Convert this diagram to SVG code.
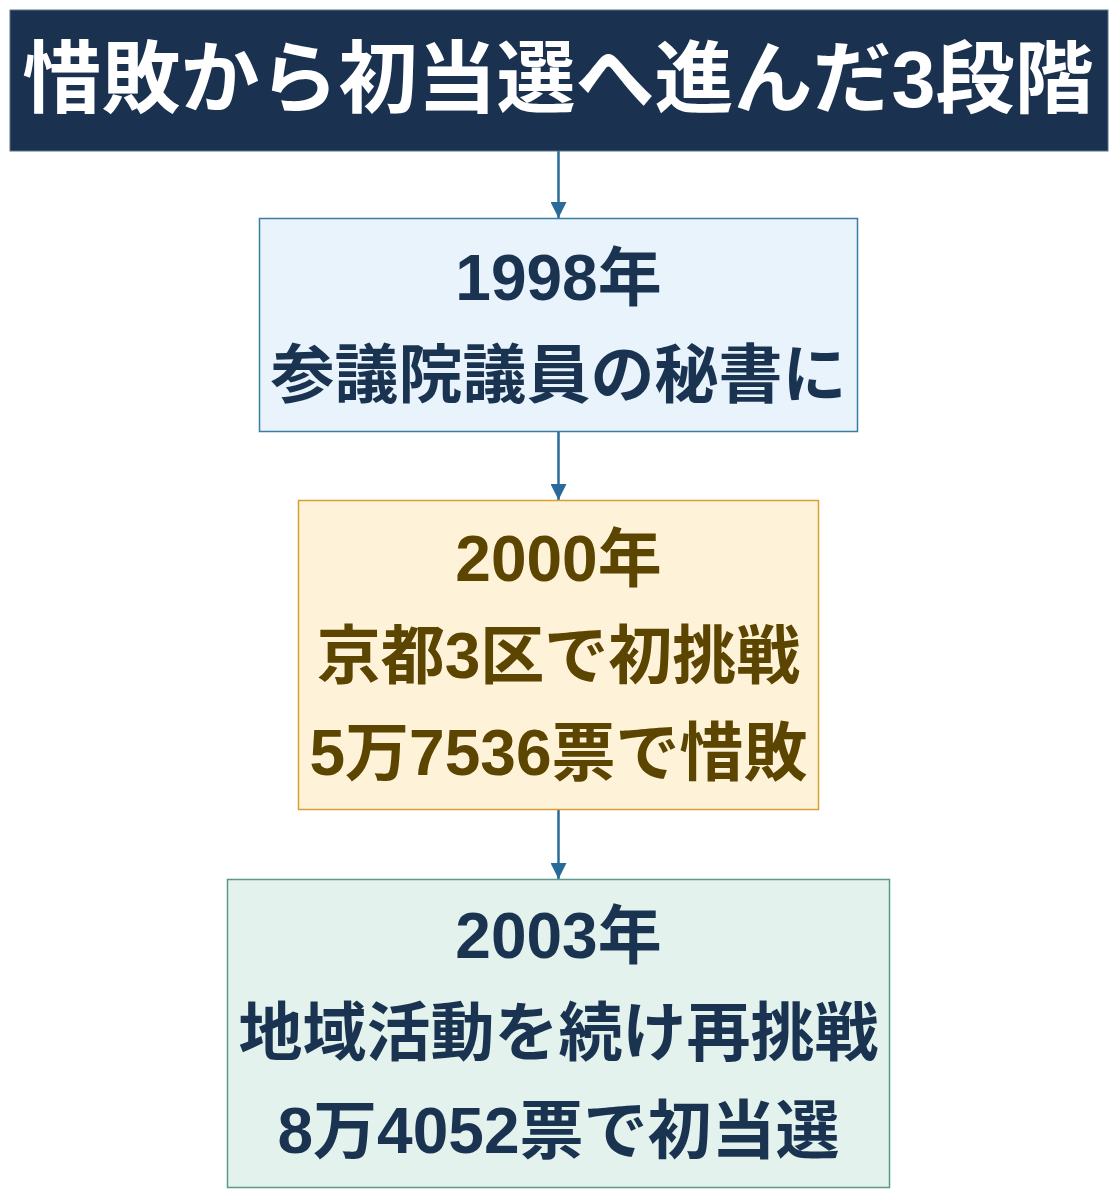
<svg xmlns="http://www.w3.org/2000/svg" width="1118" height="1200" viewBox="0 0 1118 1200">
<style>
text{font-family:"Liberation Sans","Noto Sans CJK JP",sans-serif;font-weight:bold;text-anchor:middle}
.t{fill:#ffffff;font-size:79px}
.b{font-size:64px}
.navy{fill:#1a3350}
.brown{fill:#5c4500}
.edge{stroke:#2a6a98;stroke-width:2.5;fill:none}
</style>
<defs>
<marker id="ah" viewBox="0 0 16 16" refX="16" refY="8" markerWidth="16" markerHeight="16" markerUnits="userSpaceOnUse" orient="auto">
<path d="M0,0 L16,8 L0,16 Z" fill="#2a6a98"/>
</marker>
</defs>
<rect width="1118" height="1200" fill="#ffffff"/>
<g id="connectors">
<line class="edge" x1="558.5" y1="151" x2="558.5" y2="218" marker-end="url(#ah)"/>
<line class="edge" x1="558.5" y1="432" x2="558.5" y2="500" marker-end="url(#ah)"/>
<line class="edge" x1="558.5" y1="810" x2="558.5" y2="879" marker-end="url(#ah)"/>
</g>
<g id="title">
<rect x="10" y="10" width="1098" height="141" fill="#1a3250" stroke="#5a7088" stroke-width="1"/>
<text class="t" x="558" y="107">惜敗から初当選へ進んだ3段階</text>
</g>
<g id="step1998">
<rect x="259.5" y="218.5" width="598" height="213" fill="#e8f3fc" stroke="#3a7ca5" stroke-width="1.5"/>
<text class="b navy" x="558.5" y="300">1998年</text>
<text class="b navy" x="558.5" y="397">参議院議員の秘書に</text>
</g>
<g id="step2000">
<rect x="298.5" y="500.5" width="520" height="309" fill="#fef3d8" stroke="#d8a030" stroke-width="1.5"/>
<text class="b brown" x="558.5" y="581">2000年</text>
<text class="b brown" x="558.5" y="678">京都3区で初挑戦</text>
<text class="b brown" x="558.5" y="775">5万7536票で惜敗</text>
</g>
<g id="step2003">
<rect x="227.5" y="879.5" width="662" height="308" fill="#e3f2ec" stroke="#5a9a8a" stroke-width="1.5"/>
<text class="b navy" x="558.5" y="958">2003年</text>
<text class="b navy" x="558.5" y="1055">地域活動を続け再挑戦</text>
<text class="b navy" x="558.5" y="1153">8万4052票で初当選</text>
</g>
</svg>
